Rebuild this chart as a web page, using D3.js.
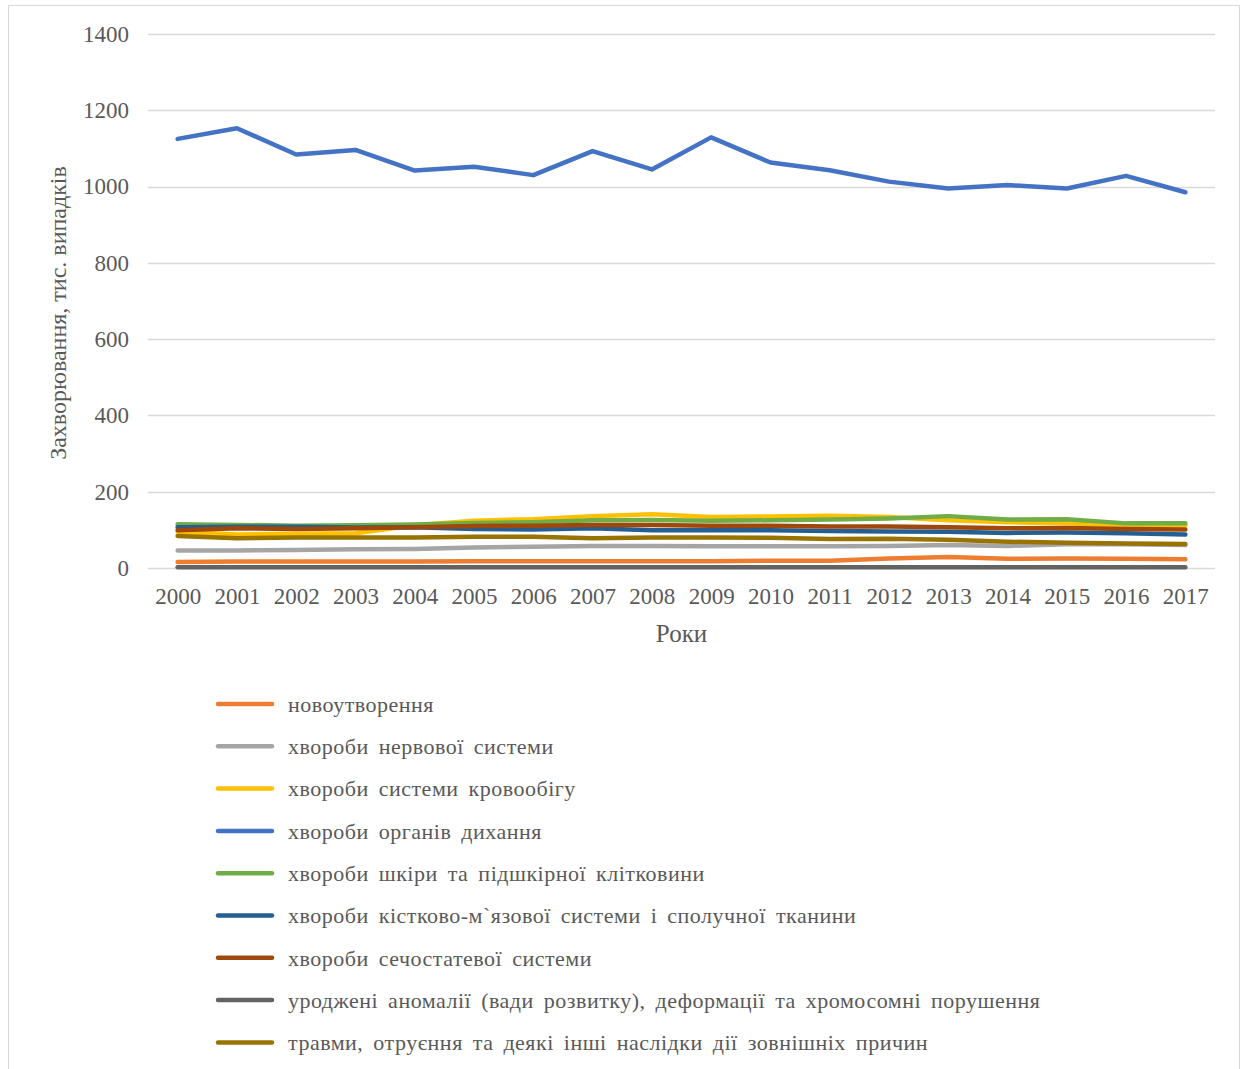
<!DOCTYPE html>
<html>
<head>
<meta charset="utf-8">
<script src="https://cdn.jsdelivr.net/npm/d3@7"></script>
<style>
  html, body { margin: 0; padding: 0; background: #fff; }
  svg text { font-family: "Liberation Serif", "Times New Roman", serif; }
</style>
</head>
<body>
<svg id="chart" width="1248" height="1069"></svg>
<script>
// Years on the category axis
const years = ["2000","2001","2002","2003","2004","2005","2006","2007","2008",
               "2009","2010","2011","2012","2013","2014","2015","2016","2017"];

// Y axis ticks
const yTicks = [0, 200, 400, 600, 800, 1000, 1200, 1400];

// Incidence by disease class, thousand cases
const neoplasms   = [16, 17, 17, 17, 17, 18, 18, 18, 18, 18, 19, 19, 25, 29, 24, 25, 24, 23];
const nervous     = [46, 46, 47, 49, 50, 54, 56, 58, 58, 57, 57, 57, 58, 60, 58, 62, 62, 60];
const circulatory = [95, 88, 90, 91, 112, 124, 128, 136, 141, 134, 135, 137, 134, 125, 120, 117, 111, 112];
const respiratory = [1125, 1153, 1084, 1096, 1042, 1052, 1030, 1093, 1045, 1129, 1063, 1043, 1013, 995, 1004, 995, 1028, 985];
const skin        = [115, 113, 111, 112, 114, 118, 120, 125, 126, 124, 125, 127, 130, 136, 127, 128, 117, 117];
const musculo     = [107, 108, 108, 106, 107, 102, 101, 104, 99, 99, 99, 97, 96, 95, 92, 93, 91, 88];
const genito      = [99, 104, 102, 104, 107, 110, 111, 113, 113, 111, 111, 109, 109, 107, 104, 105, 102, 101];
const congenital  = [2, 2, 2, 2, 2, 2, 2, 2, 2, 2, 2, 2, 2, 2, 2, 2, 2, 2];
const injuries    = [84, 78, 80, 80, 80, 82, 82, 78, 80, 80, 79, 76, 77, 74, 69, 66, 64, 63];

const seriesNames = [
  "новоутворення",
  "хвороби нервової системи",
  "хвороби системи кровообігу",
  "хвороби органів дихання",
  "хвороби шкіри та підшкірної клітковини",
  "хвороби кістково-м`язової системи і сполучної тканини",
  "хвороби сечостатевої системи",
  "уроджені аномалії (вади розвитку), деформації та хромосомні порушення",
  "травми, отруєння та деякі інші наслідки дії зовнішніх причин"
];
const seriesValues = [neoplasms, nervous, circulatory, respiratory, skin, musculo, genito, congenital, injuries];
const seriesColors = ["#ED7D31", "#A5A5A5", "#FFC000", "#4472C4", "#70AD47",
                      "#255E91", "#9E480E", "#636363", "#997300"];

const series = seriesNames.map((name, i) => ({
  name, color: seriesColors[i],
  values: seriesValues[i].map((v, j) => ({ year: years[j], value: v }))
}));

const svg = d3.select("#chart");

// Outer frame
svg.append("rect")
  .attr("x", 8.5).attr("y", 5.5).attr("width", 1231).attr("height", 1080)
  .attr("fill", "none").attr("stroke", "#d9d9d9").attr("stroke-width", 1);

const plot = { left: 148, right: 1215, top: 34, bottom: 568 };

const x = d3.scalePoint().domain(years).range([plot.left, plot.right]).padding(0.5);
const y = d3.scaleLinear().domain([0, 1400]).range([plot.bottom, plot.top]);

// Gridlines
svg.append("g")
  .selectAll("line")
  .data(yTicks)
  .join("line")
  .attr("x1", plot.left).attr("x2", plot.right)
  .attr("y1", d => Math.round(y(d)) + 0.5).attr("y2", d => Math.round(y(d)) + 0.5)
  .attr("stroke", "#d9d9d9").attr("stroke-width", 1.3);

// Y axis labels
const yAxis = svg.append("g")
  .attr("transform", `translate(${plot.left - 19},0)`)
  .call(d3.axisLeft(y).tickValues(yTicks).tickFormat(d3.format("d")).tickSize(0).tickPadding(0));
yAxis.select(".domain").remove();
yAxis.selectAll("text")
  .attr("font-size", 23).attr("fill", "#595959")
  .attr("font-family", "'Liberation Serif', serif");

// X axis labels
const xAxis = svg.append("g")
  .attr("transform", `translate(0,${plot.bottom + 20})`)
  .call(d3.axisBottom(x).tickSize(0).tickPadding(0));
xAxis.select(".domain").remove();
xAxis.selectAll("text")
  .attr("font-size", 23).attr("fill", "#595959")
  .attr("font-family", "'Liberation Serif', serif");

// Axis titles
svg.append("text")
  .attr("x", (plot.left + plot.right) / 2).attr("y", 642)
  .attr("text-anchor", "middle").attr("font-size", 25).attr("fill", "#595959")
  .text("Роки");

svg.append("text")
  .attr("transform", `translate(66,313) rotate(-90)`)
  .attr("text-anchor", "middle").attr("font-size", 24).attr("fill", "#595959")
  .text("Захворювання, тис. випадків");

// Lines
const line = d3.line().x(d => x(d.year)).y(d => y(d.value));
svg.append("g")
  .selectAll("path")
  .data(series)
  .join("path")
  .attr("d", d => line(d.values))
  .attr("fill", "none")
  .attr("stroke", d => d.color)
  .attr("stroke-width", 4.5)
  .attr("stroke-linejoin", "round")
  .attr("stroke-linecap", "round");

// Legend
const legend = svg.append("g").attr("transform", "translate(218,704)");
const rows = legend.selectAll("g")
  .data(series)
  .join("g")
  .attr("transform", (d, i) => `translate(0,${i * 42.3})`);
rows.append("line")
  .attr("x1", 0).attr("x2", 54).attr("y1", 0).attr("y2", 0)
  .attr("stroke", d => d.color).attr("stroke-width", 4.5)
  .attr("stroke-linecap", "round");
rows.append("text")
  .attr("x", 70).attr("y", 0).attr("dy", "0.35em")
  .attr("font-size", 22).attr("fill", "#595959")
  .attr("word-spacing", 4).attr("letter-spacing", 0.5)
  .text(d => d.name);
</script>
</body>
</html>
